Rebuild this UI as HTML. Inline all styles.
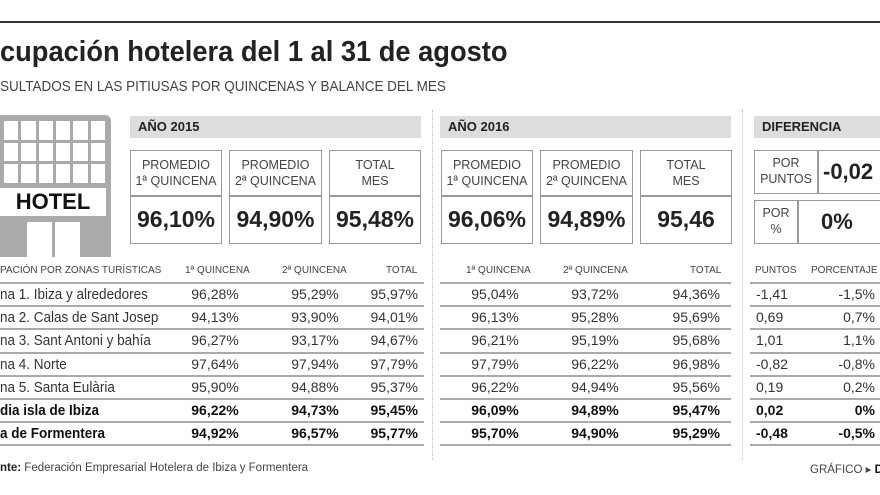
<!DOCTYPE html>
<html><head><meta charset="utf-8"><style>
body{margin:0;width:880px;height:495px;background:#fff;overflow:hidden;position:relative;font-family:"Liberation Sans",sans-serif;color:#222}
div{position:absolute;box-sizing:border-box}
.c{transform:scaleX(.86);transform-origin:left center;white-space:nowrap}
.bar{background:#ddd;height:22px;font-weight:bold;font-size:13px;line-height:22px;padding-left:8px}
.box{border:1.5px solid #999}
.lab{font-size:12.5px;color:#444;text-align:center;line-height:16px;width:100%}
.val{font-size:23px;font-weight:bold;text-align:center;width:100%;color:#222}
.hd{font-size:10px;color:#444;top:265px;white-space:nowrap}
.ln{height:2px;background:#aaa}
.t{font-size:14px;color:#333;white-space:nowrap}
.b{font-weight:bold;color:#111}
.dot{width:0;border-left:1px dotted #bbb;top:110px;height:350px}
.r{text-align:right}
.m{text-align:center}
</style></head><body>
<div style="left:0;top:21px;width:880px;height:2px;background:#333"></div>
<div class="c" style="left:0;top:36px;font-size:29px;font-weight:bold;color:#222;transform:scaleX(.94)">cupación hotelera del 1 al 31 de agosto</div>
<div class="c" style="left:0;top:79px;font-size:14.5px;color:#444;transform:scaleX(.93)">SULTADOS EN LAS PITIUSAS POR QUINCENAS Y BALANCE DEL MES</div>

<!-- hotel icon -->
<div style="left:0;top:115px;width:111px;height:142px;background:#aaa;border-top-right-radius:6px"></div>
<div style="left:4px;top:121px;width:101px;height:62px;display:grid;grid-template-columns:repeat(6,1fr);grid-template-rows:repeat(3,1fr);gap:3px 3px;column-gap:3px">
<i style="background:#fff"></i><i style="background:#fff"></i><i style="background:#fff"></i><i style="background:#fff"></i><i style="background:#fff"></i><i style="background:#fff"></i>
<i style="background:#fff"></i><i style="background:#fff"></i><i style="background:#fff"></i><i style="background:#fff"></i><i style="background:#fff"></i><i style="background:#fff"></i>
<i style="background:#fff"></i><i style="background:#fff"></i><i style="background:#fff"></i><i style="background:#fff"></i><i style="background:#fff"></i><i style="background:#fff"></i>
</div>
<div style="left:0;top:188px;width:106px;height:28px;background:#fff;font-weight:bold;font-size:22px;line-height:28px;text-align:center;color:#111">HOTEL</div>
<div style="left:27px;top:222px;width:25px;height:35px;background:#fff"></div>
<div style="left:55px;top:222px;width:25px;height:35px;background:#fff"></div>

<div class="dot" style="left:432px"></div>
<div class="dot" style="left:742px"></div>

<!-- 2015 -->
<div class="bar" style="left:130px;top:116px;width:291px">AÑO 2015</div>
<div class="box" style="left:130px;top:150px;width:92px;height:94px"><div style="left:0;top:44px;width:100%;height:1.5px;background:#999"></div><div class="lab" style="top:6px">PROMEDIO<br>1ª QUINCENA</div><div class="val" style="top:55px">96,10%</div></div>
<div class="box" style="left:229px;top:150px;width:93px;height:94px"><div style="left:0;top:44px;width:100%;height:1.5px;background:#999"></div><div class="lab" style="top:6px">PROMEDIO<br>2ª QUINCENA</div><div class="val" style="top:55px">94,90%</div></div>
<div class="box" style="left:329px;top:150px;width:92px;height:94px"><div style="left:0;top:44px;width:100%;height:1.5px;background:#999"></div><div class="lab" style="top:6px">TOTAL<br>MES</div><div class="val" style="top:55px">95,48%</div></div>

<!-- 2016 -->
<div class="bar" style="left:440px;top:116px;width:291px">AÑO 2016</div>
<div class="box" style="left:441px;top:150px;width:92px;height:94px"><div style="left:0;top:44px;width:100%;height:1.5px;background:#999"></div><div class="lab" style="top:6px">PROMEDIO<br>1ª QUINCENA</div><div class="val" style="top:55px">96,06%</div></div>
<div class="box" style="left:540px;top:150px;width:93px;height:94px"><div style="left:0;top:44px;width:100%;height:1.5px;background:#999"></div><div class="lab" style="top:6px">PROMEDIO<br>2ª QUINCENA</div><div class="val" style="top:55px">94,89%</div></div>
<div class="box" style="left:640px;top:150px;width:92px;height:94px"><div style="left:0;top:44px;width:100%;height:1.5px;background:#999"></div><div class="lab" style="top:6px">TOTAL<br>MES</div><div class="val" style="top:55px">95,46</div></div>

<!-- diferencia -->
<div class="bar" style="left:754px;top:116px;width:126px">DIFERENCIA</div>
<div class="box" style="left:754px;top:150px;width:140px;height:44px"><div style="left:62px;top:0;width:1.5px;height:100%;background:#999"></div><div class="lab" style="top:4px;width:62px">POR<br>PUNTOS</div><div style="left:68px;top:8px;font-size:22px;font-weight:bold">-0,02</div></div>
<div class="box" style="left:754px;top:200px;width:140px;height:44px"><div style="left:42px;top:0;width:1.5px;height:100%;background:#999"></div><div class="lab" style="top:4px;width:42px">POR<br>%</div><div style="left:66px;top:8px;font-size:22px;font-weight:bold">0%</div></div>

<!-- headers -->
<div class="hd" style="left:0">PACIÓN POR ZONAS TURÍSTICAS</div>
<div class="hd" style="left:185px">1ª QUINCENA</div>
<div class="hd" style="left:282px">2ª QUINCENA</div>
<div class="hd" style="left:386px">TOTAL</div>
<div class="hd" style="left:466px">1ª QUINCENA</div>
<div class="hd" style="left:563px">2ª QUINCENA</div>
<div class="hd" style="left:690px">TOTAL</div>
<div class="hd" style="left:755px">PUNTOS</div>
<div class="hd" style="left:811px">PORCENTAJE</div>

<div id="rows"></div>
<script>
var rows=[
["na 1. Ibiza y alrededores","96,28%","95,29%","95,97%","95,04%","93,72%","94,36%","-1,41","-1,5%"],
["na 2. Calas de Sant Josep","94,13%","93,90%","94,01%","96,13%","95,28%","95,69%","0,69","0,7%"],
["na 3. Sant Antoni y bahía","96,27%","93,17%","94,67%","96,21%","95,19%","95,68%","1,01","1,1%"],
["na 4. Norte","97,64%","97,94%","97,79%","97,79%","96,22%","96,98%","-0,82","-0,8%"],
["na 5. Santa Eulària","95,90%","94,88%","95,37%","96,22%","94,94%","95,56%","0,19","0,2%"],
["dia isla de Ibiza","96,22%","94,73%","95,45%","96,09%","94,89%","95,47%","0,02","0%"],
["a de Formentera","94,92%","96,57%","95,77%","95,70%","94,90%","95,29%","-0,48","-0,5%"]];
var h='';
var pos=[[0,180,'l'],[175,80,'m'],[275,80,'m'],[340,78,'r'],[455,80,'m'],[555,80,'m'],[640,80,'r'],[756,60,'l'],[810,65,'r']];
for(var i=0;i<8;i++){var y=282+i*23.2;
h+='<div class="ln" style="left:0;top:'+y+'px;width:424px"></div><div class="ln" style="left:440px;top:'+y+'px;width:291px"></div><div class="ln" style="left:750px;top:'+y+'px;width:130px"></div>';}
rows.forEach(function(r,i){var y=284+i*23.2;var b=i>=5?' b':'';
r.forEach(function(v,j){var p=pos[j];h+='<div class="t'+b+' '+(p[2]=='l'?'':p[2])+'" style="left:'+p[0]+'px;top:'+y+'px;width:'+p[1]+'px;line-height:21px;'+(j==0?'font-size:15px;transform:scaleX(.9);transform-origin:left center;':'')+'">'+v+'</div>';});});
document.getElementById('rows').outerHTML=h;
</script>
<div style="left:0;top:462px;font-size:11.5px;color:#444;white-space:nowrap"><b style="color:#222">nte:</b> Federación Empresarial Hotelera de Ibiza y Formentera</div>
<div style="left:810px;top:462px;font-size:11.5px;color:#444;white-space:nowrap">GRÁFICO ▸ <b style="color:#111">D</b></div>
</body></html>
